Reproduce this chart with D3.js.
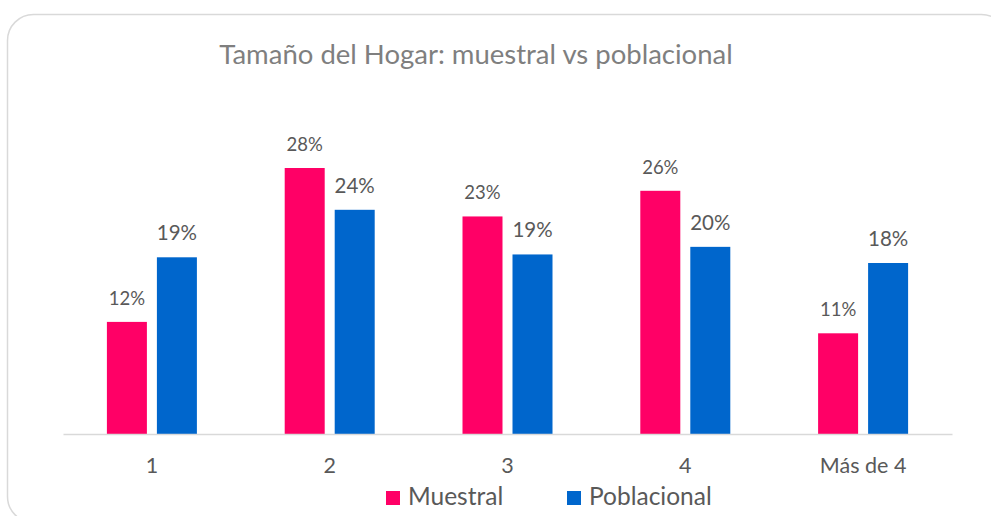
<!DOCTYPE html>
<html>
<head>
<meta charset="utf-8">
<script src="https://cdn.jsdelivr.net/npm/d3@7"></script>
<style>
  body { margin: 0; background: #fff; }
  text { font-family: Lato, "Open Sans", sans-serif; }
</style>
</head>
<body>
<script>
// datos (porcentajes)
var categorias = ["1", "2", "3", "4", "Más de 4"];
var series = ["Muestral", "Poblacional"];
var muestral = [11.8, 28.0, 22.9, 25.6, 10.6];
var poblacional = [18.6, 23.6, 18.9, 19.7, 18.0];
var colores = ["#FF0066", "#0066CC"];

var W = 991, H = 516;
var svg = d3.select("body").append("svg")
  .attr("width", W)
  .attr("height", H);

// marco redondeado
svg.append("rect")
  .attr("x", 7.5).attr("y", 14.5)
  .attr("width", 1000).attr("height", 508)
  .attr("rx", 26).attr("ry", 26)
  .attr("fill", "#fff")
  .attr("stroke", "#d9d9d9")
  .attr("stroke-width", 1.5);

svg.append("text")
  .attr("x", 476).attr("y", 64)
  .attr("text-anchor", "middle")
  .attr("font-size", 27.5)
  .attr("fill", "#7f7f7f")
  .text("Tamaño del Hogar: muestral vs poblacional");

var x = d3.scaleBand().domain(categorias).range([63, 952]).padding(0);
var y = d3.scaleLinear().domain([0, 30]).range([434, 149]);

var x1 = d3.scaleBand().domain(series).range([-45, 45]).paddingInner(0.2);

var datos = categorias.map(function(c, i) {
  return {cat: c, valores: [muestral[i], poblacional[i]]};
});

var grupos = svg.selectAll("g.grupo")
  .data(datos)
  .enter().append("g")
  .attr("class", "grupo")
  .attr("transform", function(d) { return "translate(" + (x(d.cat) + x.bandwidth() / 2) + ",0)"; });

grupos.selectAll("rect")
  .data(function(d) { return d.valores.map(function(v, j) { return {serie: series[j], v: v, j: j}; }); })
  .enter().append("rect")
  .attr("x", function(d) { return x1(d.serie); })
  .attr("y", function(d) { return y(d.v); })
  .attr("width", x1.bandwidth())
  .attr("height", function(d) { return y(0) - y(d.v); })
  .attr("fill", function(d) { return colores[d.j]; });

grupos.selectAll("text.lbl")
  .data(function(d) { return d.valores.map(function(v, j) { return {serie: series[j], v: v, j: j}; }); })
  .enter().append("text")
  .attr("class", "lbl")
  .attr("x", function(d) { return x1(d.serie) + x1.bandwidth() / 2; })
  .attr("y", function(d) { return y(d.v) - 17; })
  .attr("text-anchor", "middle")
  .attr("font-size", function(d) { return d.j == 0 ? 18.5 : 20.5; })
  .attr("fill", "#595959")
  .text(function(d) { return Math.round(d.v) + "%"; });

// eje x
var eje = svg.append("g")
  .attr("transform", "translate(0," + y(0) + ")")
  .call(d3.axisBottom(x).tickSize(0).tickPadding(24));
eje.select(".domain").attr("stroke", "#d9d9d9").attr("stroke-width", 1.5);
eje.selectAll("text")
  .attr("font-family", "Lato, sans-serif")
  .attr("font-size", 21.5)
  .attr("fill", "#595959");

// leyenda
var ley = svg.selectAll("g.ley")
  .data(series)
  .enter().append("g")
  .attr("class", "ley")
  .attr("transform", function(d, i) { return "translate(" + [386, 567][i] + ",0)"; });
ley.append("rect")
  .attr("x", 0).attr("y", 491)
  .attr("width", 14).attr("height", 14)
  .attr("fill", function(d, i) { return colores[i]; });
ley.append("text")
  .attr("x", 22).attr("y", 505)
  .attr("font-size", 24.5)
  .attr("fill", "#595959")
  .text(function(d) { return d; });
</script>
</body>
</html>
